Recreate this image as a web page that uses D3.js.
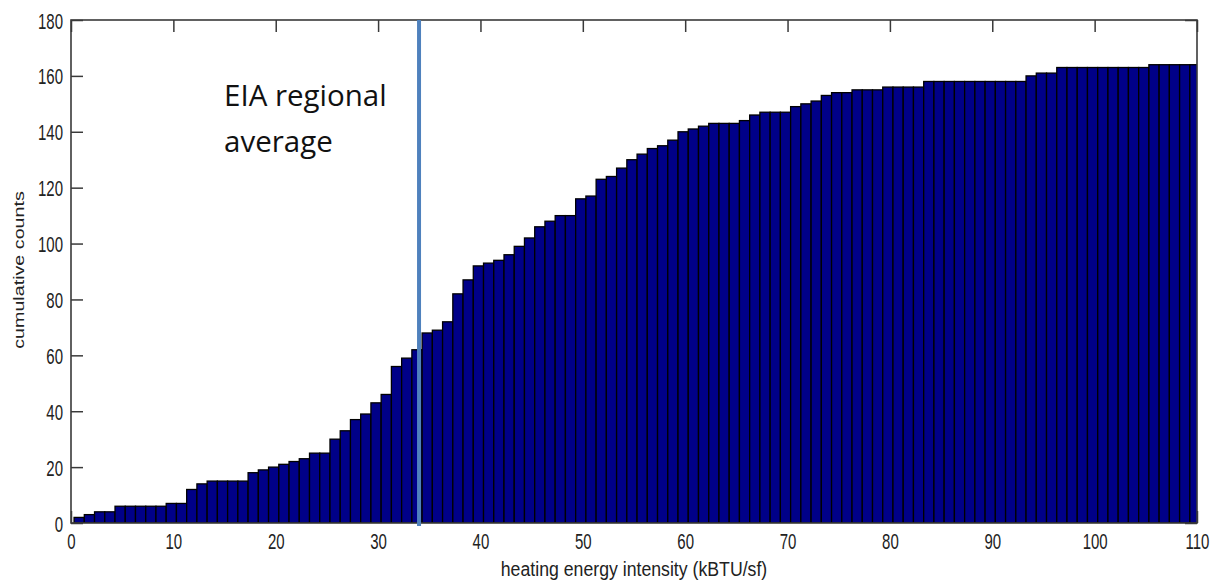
<!DOCTYPE html>
<html><head><meta charset="utf-8">
<script src="https://cdn.jsdelivr.net/npm/d3@7"></script>
<style>body{margin:0;background:#fff}</style>
</head><body>
<svg id="chart" width="1219" height="583"></svg>
<script>
// cumulative counts per 1-unit bin (bins start at 0.3)
const counts = [
  2, 3, 4, 4, 6, 6, 6, 6, 6, 7,
  7, 12, 14, 15, 15, 15, 15, 18, 19, 20,
  21, 22, 23, 25, 25, 30, 33, 37, 39, 43,
  46, 56, 59, 62, 68, 69, 72, 82, 87, 92,
  93, 94, 96, 99, 102, 106, 108, 110, 110, 116,
  117, 123, 124, 127, 130, 132, 134, 135, 137, 140,
  141, 142, 143, 143, 143, 144, 146, 147, 147, 147,
  149, 150, 151, 153, 154, 154, 155, 155, 155, 156,
  156, 156, 156, 158, 158, 158, 158, 158, 158, 158,
  158, 158, 158, 160, 161, 161, 163, 163, 163, 163,
  163, 163, 163, 163, 163, 164, 164, 164, 164, 164
];
const binStart = 0.3;
const binWidth = 1;
const xTicks = [0, 10, 20, 30, 40, 50, 60, 70, 80, 90, 100, 110];
const yTicks = [0, 20, 40, 60, 80, 100, 120, 140, 160, 180];
const xDomain = [0, 110];
const yDomain = [0, 180];
const eiaAverage = 34;
const annotationLines = ["EIA regional", "average"];
const xLabel = "heating energy intensity (kBTU/sf)";
const yLabel = "cumulative counts";

const svg = d3.select("#chart");
const L = 71, R = 1197, T = 20, B = 523;
const x = d3.scaleLinear().domain(xDomain).range([L, R]);
const y = d3.scaleLinear().domain(yDomain).range([B, T]);

svg.append("clipPath").attr("id", "plotclip")
  .append("rect").attr("x", L).attr("y", T).attr("width", R - L).attr("height", B - T);

const tickFont = "'Liberation Sans', Arial, sans-serif";
const axisColor = "#3a3a3a";

// bottom & right ticks (under bars)
const gb = svg.append("g").attr("transform", `translate(0,${B})`)
  .call(d3.axisBottom(x).tickValues(xTicks).tickSizeInner(-12).tickSizeOuter(0).tickPadding(0));
gb.select(".domain").remove();
gb.selectAll("line").attr("stroke", axisColor).attr("stroke-width", 1.5);
gb.selectAll("text").attr("y", null).attr("dy", null)
  .attr("transform", "translate(0,26) scale(1,1.5)")
  .attr("font-family", tickFont).attr("font-size", 15).attr("fill", "#222");

const gr = svg.append("g").attr("transform", `translate(${R},0)`)
  .call(d3.axisRight(y).tickValues(yTicks).tickSizeInner(-12).tickSizeOuter(0).tickFormat(""));
gr.select(".domain").remove();
gr.selectAll("line").attr("stroke", axisColor).attr("stroke-width", 1.5);

// bars
svg.append("g").attr("clip-path", "url(#plotclip)")
  .selectAll("rect").data(counts).join("rect")
  .attr("x", (d, i) => x(binStart + i * binWidth))
  .attr("width", x(binWidth) - x(0))
  .attr("y", d => y(d))
  .attr("height", d => y(0) - y(d))
  .attr("fill", "#000088")
  .attr("stroke", "#000000")
  .attr("stroke-width", 1.3);

// top & left ticks
const gt = svg.append("g").attr("transform", `translate(0,${T})`)
  .call(d3.axisTop(x).tickValues(xTicks).tickSizeInner(-12).tickSizeOuter(0).tickFormat(""));
gt.select(".domain").remove();
gt.selectAll("line").attr("stroke", axisColor).attr("stroke-width", 1.5);

const gl = svg.append("g").attr("transform", `translate(${L},0)`)
  .call(d3.axisLeft(y).tickValues(yTicks).tickSizeInner(-12).tickSizeOuter(0).tickPadding(0));
gl.select(".domain").remove();
gl.selectAll("line").attr("stroke", axisColor).attr("stroke-width", 1.5);
gl.selectAll("text").attr("x", null).attr("dy", null)
  .attr("text-anchor", "end")
  .attr("transform", "translate(-8,8) scale(1,1.5)")
  .attr("font-family", tickFont).attr("font-size", 15).attr("fill", "#222");

// frame
svg.append("rect").attr("x", L).attr("y", T).attr("width", R - L).attr("height", B - T)
  .attr("fill", "none").attr("stroke", axisColor).attr("stroke-width", 1.6);

// EIA line
svg.append("line")
  .attr("x1", x(eiaAverage)).attr("x2", x(eiaAverage))
  .attr("y1", y(yDomain[1])).attr("y2", y(0) + 3)
  .attr("stroke", "#4f81bd").attr("stroke-width", 4);

// annotation
const ann = svg.append("text").attr("font-family", "'Open Sans', sans-serif")
  .attr("font-size", 29.5).attr("fill", "#111");
annotationLines.forEach((t, i) => {
  ann.append("tspan").attr("x", 224).attr("y", 106 + i * 46).text(t);
});

// axis labels
svg.append("text")
  .attr("transform", `translate(${(L + R) / 2},576) scale(1,1.15)`)
  .attr("text-anchor", "middle")
  .attr("font-family", tickFont).attr("font-size", 17.7).attr("fill", "#222")
  .text(xLabel);

svg.append("text")
  .attr("transform", "translate(24,270) rotate(-90) scale(1.28,1)")
  .attr("text-anchor", "middle")
  .attr("font-family", tickFont).attr("font-size", 15.4).attr("fill", "#222")
  .text(yLabel);
</script>
</body></html>
